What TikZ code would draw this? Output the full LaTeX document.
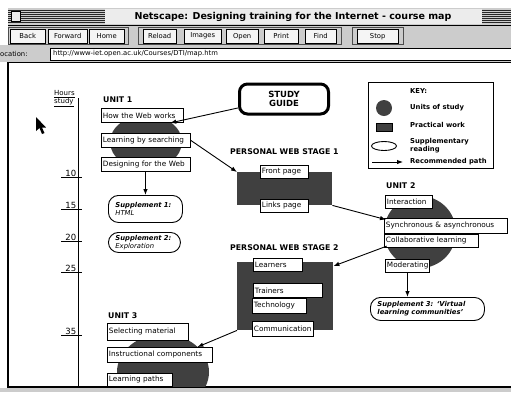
\documentclass[tikz,border=0pt]{standalone}
\usepackage{fontspec}
\setmainfont{DejaVu Sans}
\usetikzlibrary{arrows.meta,shapes.geometric}
\definecolor{chrome}{gray}{0.80}
\definecolor{blob}{gray}{0.25}
\tikzset{
  topic/.style={draw=black, line width=0.9pt, fill=white, anchor=north west,
    inner sep=1.5pt, minimum height=14pt, text width=#1, align=left,
    font=\fontsize{7.3}{8}\selectfont},
  supp/.style={draw=black, line width=0.9pt, rounded corners=10pt, fill=white,
    anchor=north west, inner xsep=7pt, inner ysep=2pt, text width=#1, align=left,
    font=\fontsize{6.8}{7.8}\selectfont\itshape},
  head/.style={anchor=west, inner sep=0pt, font=\fontsize{7.8}{8}\selectfont\bfseries},
  practical/.style={fill=blob, anchor=north west, inner sep=0pt},
  unitblob/.style={ellipse, fill=blob, inner sep=0pt},
  route/.style={line width=0.9pt, -{Latex[length=6pt,width=4.5pt]}},
  button/.style={draw, fill=gray!8, anchor=north west, inner sep=0pt,
    minimum height=14pt, font=\fontsize{6.8}{7}\selectfont},
  keytext/.style={anchor=west, inner sep=0pt, align=left,
    font=\fontsize{6.8}{7.8}\selectfont\bfseries}
}
\begin{document}
\begin{tikzpicture}[x=1pt, y=-1pt]
  \useasboundingbox (0,0) rectangle (511,392);

  % window chrome
  \fill[chrome] (8,8) rectangle (511,45);
  \fill[chrome] (0,45) rectangle (511,62);
  \fill[gray!15] (105,9) rectangle (482,24);
  \foreach \yy in {10,12,...,22} {
    \draw[gray!30!black, line width=0.5pt] (8,\yy) -- (105,\yy);
    \draw[gray!30!black, line width=0.5pt] (482,\yy) -- (511,\yy);
  }
  \draw[fill=gray!15, line width=0.6pt] (11,11) rectangle (20,21);
  \node[font=\fontsize{9.5}{10}\selectfont\bfseries, inner sep=0pt] (title) at (293,16.5)
    {Netscape: Designing training for the Internet - course map};
  \draw[line width=0.6pt] (8,25) -- (511,25);
  \draw[gray!60!black] (8,27) rectangle (128,44);
  \draw[gray!60!black] (138,27) rectangle (341,44);
  \draw[gray!60!black] (352,27) rectangle (403,44);
  \foreach \lbl/\xa/\bwidth in {Back/10/35, Forward/48/39, Home/89/35, Reload/143/33,
      Images/184/37, Open/226/32, Print/264/34, Find/305/31, Stop/357/41}
    \node[button, minimum width=\bwidth] (btn\lbl) at (\xa,29) {\lbl};
  \node[anchor=west, inner sep=0pt, font=\fontsize{6.8}{7}\selectfont] (loclabel) at (0,54) {ocation:};
  \node[draw, fill=white, anchor=north west, minimum width=461, minimum height=12,
    inner sep=0pt] (url) at (50,48) {};
  \node[anchor=west, inner sep=0pt, font=\fontsize{6.8}{7}\selectfont] (urltext) at (53,54)
    {http://www-iet.open.ac.uk/Courses/DTI/map.htm};
  \draw[line width=1pt] (8,62.5) -- (511,62.5);
  \draw[line width=1.2pt] (8,62) -- (8,388);
  \fill[gray!40] (0,388) rectangle (511,392);
  \draw[line width=2pt] (8,387) -- (511,387);

  % hours scale
  \node[anchor=north west, inner sep=0pt, align=left, font=\fontsize{7}{8.5}\selectfont]
    (hours) at (54,90) {\underline{Hours}\\\underline{study}};
  \draw[line width=0.9pt] (78,98) -- (78,386);
  \foreach \hrs/\ypos in {10/172, 15/204, 20/236, 25/267, 35/330} {
    \node[anchor=south east, inner sep=0.5pt, font=\fontsize{8.5}{9}\selectfont] (tick\hrs) at (77,\ypos+5) {\hrs};
    \draw[line width=0.8pt] (61,\ypos+5) -- (82,\ypos+5);
  }
  \fill (36,117) -- (36,131) -- (39.5,128) -- (42,134) -- (44.5,133) -- (42,127.5) -- (46,127.5) -- cycle;

  % blobs behind the topics
  \node[unitblob, minimum width=72, minimum height=54] (u1) at (146,142) {};
  \node[unitblob, minimum width=72, minimum height=72] (u2) at (420,232) {};
  \begin{scope}
    \clip (8,62) rectangle (511,386);
    \node[unitblob, minimum width=92, minimum height=76] (u3) at (163,372) {};
  \end{scope}
  \node[practical, minimum width=95, minimum height=33] (web1) at (237,172) {};
  \node[practical, minimum width=96, minimum height=68] (web2) at (237,262) {};

  % headings
  \node[head] (unit1) at (103,100) {UNIT 1};
  \node[head] (unit2) at (386,186) {UNIT 2};
  \node[head] (unit3) at (108,316) {UNIT 3};
  \node[head] (stage1) at (230,152) {PERSONAL WEB STAGE 1};
  \node[head] (stage2) at (230,248) {PERSONAL WEB STAGE 2};

  % topics
  \begin{scope}
    \node[topic=79] (how) at (101,108) {How the Web works};
    \node[topic=86] (learn) at (101,133) {Learning by searching};
    \node[topic=86] (design) at (101,157) {Designing for the Web};
    \node[topic=45, minimum height=13pt] (front) at (260,165) {Front page};
    \node[topic=45, minimum height=13pt] (links) at (260,199) {Links page};
    \node[topic=44, minimum height=13pt] (interact) at (385,195) {Interaction};
    \node[topic=120, minimum height=15pt] (sync) at (384,218) {Synchronous \& asynchronous};
    \node[topic=91, minimum height=13pt] (collab) at (384,234) {Collaborative learning};
    \node[topic=41, minimum height=13pt] (moder) at (385,259) {Moderating};
    \node[topic=46, minimum height=13pt] (learners) at (253,258) {Learners};
    \node[topic=66] (trainers) at (253,283) {Trainers};
    \node[topic=51, minimum height=15pt] (tech) at (252,298) {Technology};
    \node[topic=58, minimum height=15pt] (comms) at (252,321) {Communication};
    \node[topic=78, minimum height=17pt] (select) at (107,323) {Selecting material};
    \node[topic=102, minimum height=15pt] (instr) at (107,347) {Instructional components};
    \node[topic=62, minimum height=13pt] (paths) at (107,373) {Learning paths};
  \end{scope}

  % supplements
  \node[supp=60, minimum height=27] (sup1) at (108,195) {\textbf{Supplement 1:}\\HTML};
  \node[supp=58, minimum height=20] (sup2) at (108,232) {\textbf{Supplement 2:}\\Exploration};
  \node[supp=100, minimum height=23] (sup3) at (370,297)
    {\textbf{Supplement 3: `Virtual}\\\textbf{learning communities'}};

  % study guide
  \node[draw, line width=3pt, rounded corners=8pt, fill=white, minimum width=89,
    minimum height=30, align=center, font=\fontsize{8.5}{9.5}\selectfont\bfseries]
    (guide) at (284,99) {STUDY\\GUIDE};

  % key
  \node[draw, line width=0.9pt, anchor=north west, minimum width=125, minimum height=86]
    (key) at (368,82) {};
  \node[keytext] (keytitle) at (410,91) {KEY:};
  \node[circle, fill=blob, minimum size=16, inner sep=0pt] (keyunit) at (384,108) {};
  \node[keytext] (keyunittext) at (410,108) {Units of study};
  \node[practical, minimum width=16, minimum height=8, draw] (keyprac) at (376,123) {};
  \node[keytext] (keypractext) at (410,125) {Practical work};
  \node[ellipse, draw, line width=0.9pt, minimum width=25, minimum height=9, inner sep=0pt]
    (keysupp) at (384,146) {};
  \node[keytext] (keysupptext) at (410,146) {Supplementary\\reading};
  \coordinate (keyfrom) at (372,162);
  \coordinate (keyto) at (403,162);
  \draw[route] (keyfrom) -- (keyto);
  \node[keytext] (keyroutetext) at (410,162) {Recommended path};

  % recommended path
  \draw[route] (guide.191) -- (how.345);
  \draw[route] (learn.east) -- (web1.north west);
  \draw[route] (design.south -| sup1.north) -- (sup1.north);
  \draw[route] (web1.south east) -- (u2.160);
  \draw[route] (moder.south) -- (moder.south |- sup3.north);
  \draw[route] (u2.203) -- (web2.32);
  \draw[route] (web2.south west) -- (instr.12);
\end{tikzpicture}
\end{document}
